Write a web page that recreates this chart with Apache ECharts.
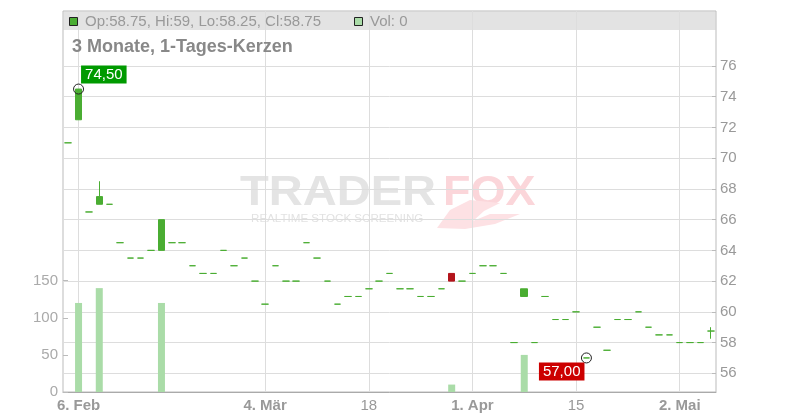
<!DOCTYPE html>
<html>
<head>
<meta charset="utf-8">
<script src="https://cdn.jsdelivr.net/npm/echarts@6/dist/echarts.min.js"></script>
<style>html,body{margin:0;padding:0;background:#fff}#c{width:800px;height:420px}</style>
</head>
<body>
<div id="c"></div>
<script>
// ---- data ----
const dates = [
 '2025-02-05','2025-02-06','2025-02-07','2025-02-10','2025-02-11','2025-02-12','2025-02-13','2025-02-14',
 '2025-02-17','2025-02-18','2025-02-19','2025-02-20','2025-02-21','2025-02-24','2025-02-25','2025-02-26',
 '2025-02-27','2025-02-28','2025-03-03','2025-03-04','2025-03-05','2025-03-06','2025-03-07','2025-03-10',
 '2025-03-11','2025-03-12','2025-03-13','2025-03-14','2025-03-17','2025-03-18','2025-03-19','2025-03-20',
 '2025-03-21','2025-03-24','2025-03-25','2025-03-26','2025-03-27','2025-03-28','2025-03-31','2025-04-01',
 '2025-04-02','2025-04-03','2025-04-04','2025-04-07','2025-04-08','2025-04-09','2025-04-10','2025-04-11',
 '2025-04-14','2025-04-15','2025-04-16','2025-04-17','2025-04-22','2025-04-23','2025-04-24','2025-04-25',
 '2025-04-28','2025-04-29','2025-04-30','2025-05-02','2025-05-05','2025-05-06','2025-05-07'
];
const opens = [71,72.5,66.5,67,67,64.5,63.5,63.5,64,64,64.5,64.5,63,62.5,62.5,64,63,63.5,62,60.5,63,62,62,64.5,63.5,62,60.5,61,61,61.5,62,62.5,61.5,61.5,61,61,61.5,62.5,62,62.5,63,63,62.5,58,61,58,61,59.5,59.5,60,57,59,57.5,59.5,59.5,60,59,58.5,58.5,58,58,58,58.75];
const closes = [71,74.5,66.5,67.5,67,64.5,63.5,63.5,64,66,64.5,64.5,63,62.5,62.5,64,63,63.5,62,60.5,63,62,62,64.5,63.5,62,60.5,61,61,61.5,62,62.5,61.5,61.5,61,61,61.5,62,62,62.5,63,63,62.5,58,61.5,58,61,59.5,59.5,60,57,59,57.5,59.5,59.5,60,59,58.5,58.5,58,58,58,58.75];
const lows = [71,72.5,66.5,67,67,64.5,63.5,63.5,64,64,64.5,64.5,63,62.5,62.5,64,63,63.5,62,60.5,63,62,62,64.5,63.5,62,60.5,61,61,61.5,62,62.5,61.5,61.5,61,61,61.5,62,62,62.5,63,63,62.5,58,61,58,61,59.5,59.5,60,57,59,57.5,59.5,59.5,60,59,58.5,58.5,58,58,58,58.25];
const highs = [71,74.5,66.5,68.5,67,64.5,63.5,63.5,64,66,64.5,64.5,63,62.5,62.5,64,63,63.5,62,60.5,63,62,62,64.5,63.5,62,60.5,61,61,61.5,62,62.5,61.5,61.5,61,61,61.5,62.5,62,62.5,63,63,62.5,58,61.5,58,61,59.5,59.5,60,57,59,57.5,59.5,59.5,60,59,58.5,58.5,58,58,58,59];
const volumes = [0,120,0,140,0,0,0,0,0,120,0,0,0,0,0,0,0,0,0,0,0,0,0,0,0,0,0,0,0,0,0,0,0,0,0,0,0,10,0,0,0,0,0,0,50,0,0,0,0,0,0,0,0,0,0,0,0,0,0,0,0,0,0];
const tickDates  = ['2025-02-06','2025-03-04','2025-03-18','2025-04-01','2025-04-15','2025-05-02'];
const tickLabels = ['6. Feb','4. Mär','18','1. Apr','15','2. Mai'];
const tickBold   = [true,true,false,true,false,true];
const priceTicks = {min:56, max:76, step:2};
const volTicks = {min:0, max:150, step:50};
const title = '3 Monate, 1-Tages-Kerzen';

// ---- derived ----
const UP = '#4aad32', DOWN = '#b3141b', VOL = '#aadca8';
const ohlc = dates.map((d,i)=>{
  const v = [opens[i],closes[i],lows[i],highs[i]];
  return opens[i] === closes[i]
    ? {value: v, itemStyle:{color:UP, color0:UP, borderColor:UP, borderColor0:UP, borderColorDoji:UP}}
    : v;
});
let maxI = 0, minI = 0;
highs.forEach((v,i)=>{ if (v > highs[maxI]) maxI = i; });
lows.forEach((v,i)=>{ if (v < lows[minI]) minI = i; });
const last = dates.length - 1;
const fmtDE = v => v.toFixed(2).replace('.', ',');

const FONT = '"Liberation Sans", Arial, sans-serif';
const L = 63, W = 653;

const chart = echarts.init(document.getElementById('c'), null, {renderer:'canvas'});
chart.setOption({
  animation: false,
  backgroundColor: '#fff',
  textStyle: {fontFamily: FONT},
  grid: [
    {left: L, width: W, top: 11, height: 381, show: true, borderColor: '#bbb', borderWidth: 1, backgroundColor: 'transparent'},
    {left: L, width: W, top: 66, height: 307.3},
    {left: L, width: W, top: 280.7, height: 111.3}
  ],
  xAxis: [
    {type:'category', gridIndex:0, data: dates, boundaryGap: true,
     axisLine:{lineStyle:{color:'#aaa'}},
     axisTick:{alignWithLabel:true, length:4, lineStyle:{color:'#aaa'},
       interval:(i,v)=>tickDates.indexOf(v) >= 0},
     axisLabel:{margin:6, fontSize:15, color:'#999', fontFamily: FONT,
       interval:(i,v)=>tickDates.indexOf(v) >= 0,
       formatter:(v)=>{ const k = tickDates.indexOf(v); if (k<0) return ''; return tickBold[k] ? '{b|'+tickLabels[k]+'}' : tickLabels[k]; },
       rich:{b:{fontWeight:'bold', fontSize:15, color:'#999', fontFamily: FONT}}},
     splitLine:{show:false}},
    {type:'category', gridIndex:1, data: dates, boundaryGap: true, show:false},
    {type:'category', gridIndex:2, data: dates, boundaryGap: true, show:false}
  ],
  yAxis: [
    {type:'value', gridIndex:0, min:0, max:1, show:false},
    {type:'value', gridIndex:1, position:'right', min:priceTicks.min, max:priceTicks.max, interval:priceTicks.step,
     axisLine:{show:false},
     axisTick:{show:true, inside:true, length:4, lineStyle:{color:'#bbb'}},
     axisLabel:{margin:4, fontSize:15, color:'#999', fontFamily: FONT},
     splitLine:{show:true, lineStyle:{color:'#ddd'}}},
    {type:'value', gridIndex:2, position:'left', min:volTicks.min, max:volTicks.max, interval:volTicks.step,
     axisLine:{show:false},
     axisTick:{show:true, inside:true, length:5, lineStyle:{color:'#bbb'}},
     axisLabel:{margin:5, fontSize:15, color:'#aaa', fontFamily: FONT},
     splitLine:{show:false}}
  ],
  series: [
    {type:'line', xAxisIndex:0, yAxisIndex:0, data:[], z:1, silent:true, symbol:'none',
     markLine:{z:1, silent:true, symbol:['none','none'], label:{show:false},
       lineStyle:{color:'#ddd', width:1, type:'solid'},
       data: tickDates.map(d=>({xAxis:d}))}},
    {type:'bar', xAxisIndex:2, yAxisIndex:2, data: volumes, barWidth:7, z:3,
     itemStyle:{color: VOL}, silent:true},
    {type:'candlestick', xAxisIndex:1, yAxisIndex:1, data: ohlc, barWidth:7, z:4,
     itemStyle:{color: UP, color0: DOWN, borderColor: UP, borderColor0: DOWN, borderColorDoji: UP, borderWidth:1},
     markPoint:{
       symbol:'circle', symbolSize:10, silent:true,
       itemStyle:{color:'rgba(0,0,0,0)', borderColor:'#222', borderWidth:1},
       data:[
         {coord:[dates[maxI], highs[maxI]], value: highs[maxI],
          label:{show:true, position:[8,-18], formatter: fmtDE(highs[maxI]), color:'#fff', fontSize:15, fontFamily: FONT,
            backgroundColor:'#009a00', padding:[2,4,1,4], lineHeight:15}},
         {coord:[dates[minI], lows[minI]], value: lows[minI],
          label:{show:true, position:[-42,10], formatter: fmtDE(lows[minI]), color:'#fff', fontSize:15, fontFamily: FONT,
            backgroundColor:'#cc0000', padding:[2,4,1,4], lineHeight:15}}
       ]}}
  ],
  graphic: [
    // watermark
    {type:'text', z:-5, x:240, y:172, scaleX:1.12, style:{text:'TRADER', font:'bold 42px '+FONT, fill:'#e4e4e4'}},
    {type:'text', z:-5, x:443, y:172, scaleX:1.07, style:{text:'FOX', font:'bold 42px '+FONT, fill:'#fbd6da'}},
    {type:'text', z:-5, x:251, y:214, scaleX:1.16, style:{text:'REALTIME STOCK SCREENING', font:'10px '+FONT, fill:'#e2e2e2'}},
    {type:'polygon', z:-5, shape:{points:[[437,228],[450,210],[470,200],[500,203],[484,211],[473,221],[490,214],[520,214],[495,224],[465,229]]}, style:{fill:'#fde1e4'}},
    // legend bar
    {type:'rect', z:-4, shape:{x:63.5, y:11.5, width:652, height:18.5}, style:{fill:'#e3e3e3'}},
    {type:'rect', z:10, shape:{x:69.5, y:17.5, width:8, height:8}, style:{fill:UP, stroke:'#222', lineWidth:1}},
    {type:'text', z:10, x:85, y:14, style:{text:'Op:'+opens[last]+', Hi:'+highs[last]+', Lo:'+lows[last]+', Cl:'+closes[last], font:'15px '+FONT, fill:'#999'}},
    {type:'rect', z:10, shape:{x:354.5, y:17.5, width:8, height:8}, style:{fill:VOL, stroke:'#222', lineWidth:1}},
    {type:'text', z:10, x:370, y:14, style:{text:'Vol: '+volumes[last], font:'15px '+FONT, fill:'#999'}},
    // title
    {type:'text', z:10, x:72, y:38, style:{text:title, font:'bold 18px '+FONT, fill:'#888'}}
  ]
});
</script>
</body>
</html>
